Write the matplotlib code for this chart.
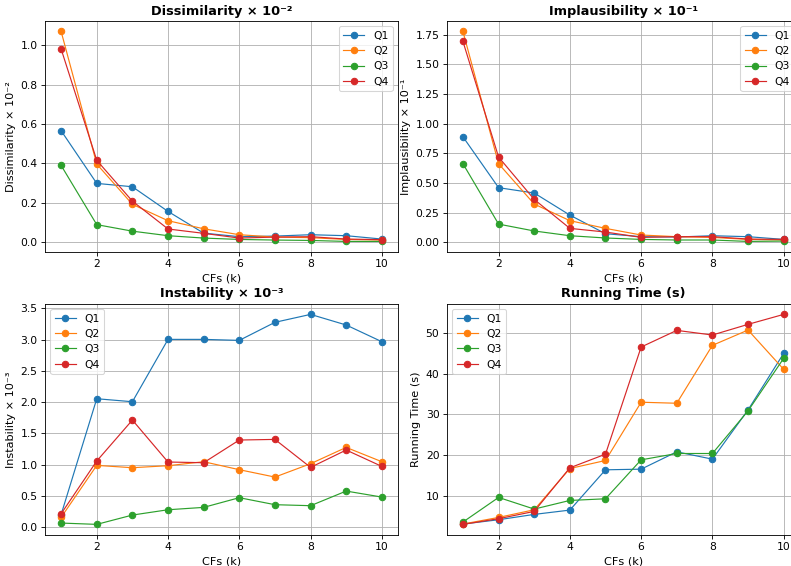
import numpy as np
import matplotlib.pyplot as plt

# Number of counterfactuals
k = np.arange(1, 11)
queries = ['Q1', 'Q2', 'Q3', 'Q4']

# Dissimilarity x 10^-2
dis_q1 = [0.566, 0.299, 0.282, 0.157, 0.047, 0.029, 0.032, 0.039, 0.034, 0.017]
dis_q2 = [1.069, 0.397, 0.193, 0.110, 0.069, 0.039, 0.027, 0.024, 0.015, 0.012]
dis_q3 = [0.390, 0.090, 0.057, 0.034, 0.022, 0.015, 0.012, 0.010, 0.005, 0.005]
dis_q4 = [0.980, 0.416, 0.209, 0.068, 0.046, 0.022, 0.027, 0.029, 0.017, 0.014]

# Implausibility x 10^-1
imp_q1 = [0.890, 0.461, 0.416, 0.230, 0.073, 0.048, 0.045, 0.056, 0.048, 0.025]
imp_q2 = [1.778, 0.663, 0.323, 0.183, 0.118, 0.062, 0.048, 0.042, 0.025, 0.020]
imp_q3 = [0.663, 0.154, 0.096, 0.056, 0.037, 0.025, 0.020, 0.020, 0.008, 0.011]
imp_q4 = [1.694, 0.719, 0.362, 0.118, 0.087, 0.042, 0.048, 0.048, 0.028, 0.025]

# Instability x 10^-3
ins_q1 = [0.20, 2.054, 2.006, 3.004, 3.004, 2.988, 3.277, 3.404, 3.234, 2.967]
ins_q2 = [0.155, 0.987, 0.950, 0.982, 1.046, 0.918, 0.800, 1.014, 1.275, 1.046]
ins_q3 = [0.064, 0.043, 0.192, 0.277, 0.315, 0.470, 0.358, 0.342, 0.576, 0.480]
ins_q4 = [0.213, 1.057, 1.713, 1.041, 1.030, 1.393, 1.403, 0.955, 1.233, 0.971]

# Running time (s)
rt_q1 = [3.05, 4.11, 5.42, 6.48, 16.38, 16.54, 20.80, 19.0, 31.1, 45.0]
rt_q2 = [3.05, 4.68, 6.56, 16.7, 18.67, 32.99, 32.74, 46.97, 50.73, 41.08]
rt_q3 = [3.54, 9.59, 6.73, 8.85, 9.26, 18.83, 20.39, 20.39, 30.86, 43.78]
rt_q4 = [2.97, 4.36, 6.16, 16.87, 20.22, 46.56, 50.65, 49.51, 52.13, 54.58]

panels = [
    ('Dissimilarity × 10⁻²', [dis_q1, dis_q2, dis_q3, dis_q4], 'upper right'),
    ('Implausibility × 10⁻¹', [imp_q1, imp_q2, imp_q3, imp_q4], 'upper right'),
    ('Instability × 10⁻³', [ins_q1, ins_q2, ins_q3, ins_q4], 'upper left'),
    ('Running Time (s)', [rt_q1, rt_q2, rt_q3, rt_q4], 'upper left'),
]

fig, axes = plt.subplots(2, 2, figsize=(791 / 77, 566 / 77), dpi=77)
plt.subplots_adjust(left=0.057, right=1.011, top=0.963, bottom=0.055,
                    wspace=0.139, hspace=0.225)

for ax, (name, series, loc) in zip(axes.flat, panels):
    for q, vals in zip(queries, series):
        ax.plot(k, vals, marker='o', linewidth=1.1, markersize=6, label=q)
    ax.set_title(name, fontweight='bold')
    ax.set_xlabel('CFs (k)', fontsize=10.5)
    ax.set_ylabel(name, fontsize=10.5)
    ax.grid(True)
    ax.legend(loc=loc)

fig.savefig('out.png', dpi=77)
